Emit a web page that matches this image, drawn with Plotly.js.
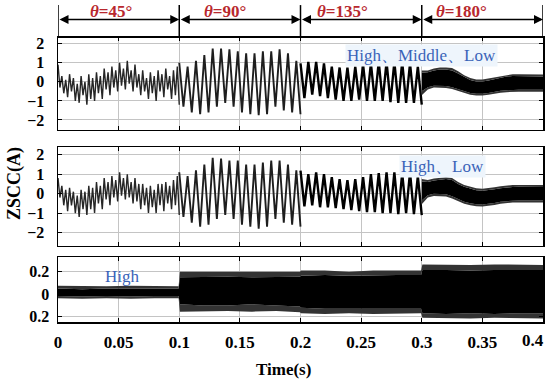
<!DOCTYPE html>
<html><head><meta charset="utf-8">
<script src="https://cdn.plot.ly/plotly-3.0.1.min.js"></script>
<style>html,body{margin:0;padding:0;background:#fff}#c{width:550px;height:383px}</style>
</head><body><div id="c"></div>
<script>
// ---- data ----
const segStarts = [0, 0.1, 0.2, 0.3];
const segLabels = ['<i>θ</i>=45°', '<i>θ</i>=90°', '<i>θ</i>=135°', '<i>θ</i>=180°'];
const segLabelX = [0.0437, 0.138, 0.235, 0.333];

// Panel 1 (High, Middle, Low) : alternating peak / trough values
const p1_45 = [0.9,-0.3, 0.3,-0.6, 0.1,-0.8, 0.4,-0.5, 0.2,-1.0, -0.1,-1.1, 0.3,-0.7, 0.0,-1.2,
  0.4,-0.9, 0.2,-1.0, 0.5,-0.6, 0.3,-0.9, 0.7,-0.4, 0.5,-0.7, 0.8,-0.3, 0.6,-0.5,
  1.0,-0.2, 0.7,-0.4, 1.1,-0.1, 0.6,-0.5, 0.9,-0.3, 0.4,-0.7, 0.6,-0.5, 0.2,-0.9,
  0.5,-0.6, 0.3,-1.0, 0.6,-0.5, 0.4,-0.8, 0.7,-0.4, 0.3,-0.9, 0.6,-0.7, 0.8,-1.2];
const p1_90 = [1.0,-1.3, 0.8,-1.6, 1.1,-1.7, 1.4,-1.6, 1.75,-1.3, 1.75,-1.1, 1.7,-1.3, 1.6,-1.6,
  1.5,-1.7, 1.5,-1.75, 1.6,-1.7, 1.6,-1.3, 1.7,-1.5, 1.5,-1.6, 1.1,-1.7];
const p1_135 = [0.97,-0.85, 1.05,-0.67, 1.05,-0.75, 0.97,-0.85, 0.8,-0.93, 0.75,-1.0, 0.75,-1.0, 0.8,-0.93,
  0.9,-1.0, 0.97,-1.0, 1.05,-1.0, 1.05,-1.06, 1.05,-1.1, 1.05,-1.1, 0.97,-1.1, 0.8,-1.2];
const tBand = [0.300,0.305,0.310,0.315,0.320,0.325,0.330,0.335,0.340,0.345,0.350,0.355,0.360,0.365,0.370,0.375,0.380,0.385,0.390,0.395,0.400];
const p1_180_hiO = [0.60,0.60,0.70,0.75,0.75,0.72,0.55,0.35,0.20,0.12,0.12,0.18,0.25,0.32,0.38,0.40,0.40,0.40,0.40,0.40,0.38];
const p1_180_hiI = [0.48,0.50,0.60,0.65,0.65,0.60,0.44,0.25,0.10,0.02,0.02,0.07,0.15,0.22,0.28,0.30,0.30,0.30,0.30,0.30,0.28];
const p1_180_loI = [-0.50,-0.28,-0.20,-0.20,-0.22,-0.28,-0.38,-0.48,-0.58,-0.62,-0.62,-0.58,-0.52,-0.47,-0.44,-0.42,-0.42,-0.42,-0.42,-0.42,-0.42];
const p1_180_loO = [-0.70,-0.40,-0.30,-0.30,-0.32,-0.38,-0.48,-0.58,-0.68,-0.72,-0.72,-0.68,-0.62,-0.57,-0.54,-0.52,-0.52,-0.52,-0.52,-0.52,-0.52];

// Panel 2 (High, Low)
const p2_45 = [0.8,-0.2, 0.4,-0.6, 0.2,-0.9, 0.3,-0.6, 0.1,-1.0, -0.1,-1.2, 0.2,-0.8, 0.1,-1.1,
  0.4,-0.8, 0.3,-1.0, 0.6,-0.5, 0.4,-0.8, 0.8,-0.3, 0.6,-0.6, 0.9,-0.2, 0.7,-0.4,
  1.1,-0.1, 0.8,-0.3, 1.0,-0.2, 0.6,-0.5, 0.8,-0.4, 0.5,-0.8, 0.5,-0.6, 0.3,-1.0,
  0.4,-0.7, 0.2,-1.0, 0.5,-0.6, 0.5,-0.9, 0.6,-0.5, 0.4,-0.8, 0.7,-0.6, 0.9,-1.1];
const p2_90 = [1.1,-1.2, 0.9,-1.5, 1.2,-1.7, 1.5,-1.6, 1.85,-1.3, 1.8,-1.1, 1.7,-1.3, 1.7,-1.6,
  1.5,-1.7, 1.5,-1.8, 1.6,-1.7, 1.7,-1.3, 1.7,-1.5, 1.5,-1.6, 1.2,-1.7];
const p2_135 = [1.18,-0.65, 1.0,-0.6, 1.1,-0.7, 1.0,-0.7, 0.85,-0.75, 0.75,-0.8, 0.7,-0.85, 0.75,-0.9,
  0.85,-0.95, 1.0,-0.95, 1.05,-1.0, 1.1,-1.0, 1.1,-1.05, 1.05,-1.0, 1.1,-1.05, 0.9,-1.1];
const p2_180_hiO = [0.75,0.70,0.78,0.82,0.85,0.80,0.60,0.45,0.35,0.28,0.25,0.28,0.33,0.38,0.42,0.44,0.45,0.45,0.45,0.44,0.44];
const p2_180_hiI = [0.63,0.60,0.68,0.72,0.75,0.70,0.50,0.35,0.25,0.18,0.15,0.18,0.23,0.28,0.32,0.34,0.35,0.35,0.35,0.34,0.34];
const p2_180_loI = [-0.35,-0.08,0.00,0.00,-0.03,-0.13,-0.28,-0.42,-0.50,-0.55,-0.56,-0.53,-0.48,-0.42,-0.38,-0.36,-0.35,-0.35,-0.35,-0.35,-0.35];
const p2_180_loO = [-0.55,-0.20,-0.12,-0.12,-0.15,-0.25,-0.40,-0.52,-0.60,-0.65,-0.66,-0.63,-0.58,-0.52,-0.48,-0.46,-0.45,-0.45,-0.45,-0.45,-0.45];

// Panel 3 (High) : envelope of the dense waveform
const t3 = [0,0.02,0.04,0.06,0.08,0.0995, 0.1005,0.12,0.14,0.16,0.18,0.1995, 0.2005,0.22,0.24,0.26,0.28,0.2995, 0.3005,0.32,0.34,0.36,0.38,0.4];
const p3_hiO = [0.075,0.07,0.07,0.075,0.07,0.07, 0.20,0.20,0.205,0.20,0.20,0.20, 0.21,0.21,0.20,0.21,0.21,0.21, 0.265,0.26,0.26,0.265,0.26,0.26];
const p3_hiI = [0.05,0.045,0.05,0.05,0.045,0.05, 0.15,0.155,0.155,0.15,0.155,0.155, 0.165,0.17,0.165,0.17,0.17,0.17, 0.215,0.215,0.21,0.215,0.215,0.215];
const p3_loI = [-0.015,-0.02,-0.015,-0.02,-0.015,-0.015, -0.09,-0.10,-0.10,-0.09,-0.10,-0.11, -0.12,-0.13,-0.13,-0.13,-0.13,-0.13, -0.17,-0.175,-0.17,-0.175,-0.17,-0.17];
const p3_loO = [-0.035,-0.04,-0.035,-0.04,-0.035,-0.035, -0.155,-0.15,-0.15,-0.155,-0.15,-0.16, -0.17,-0.175,-0.17,-0.175,-0.175,-0.17, -0.21,-0.215,-0.215,-0.21,-0.215,-0.215];

const xTicks = [0,0.05,0.1,0.15,0.2,0.25,0.3,0.35,0.4];
// the last label sits at the right edge; it is drawn right-aligned to its tick (as in the reference)
const xTickText = ['0','0.05','0.1','0.15','0.2','0.25','0.3','0.35',''];
const xLastLabel = '0.4';
const yTicks12 = [-2,-1,0,1,2];
const yTickText12 = ['\u22122','\u22121','0','1','2'];
const yTicks3 = [-0.2,0,0.2];
const yTickText3 = ['0.2','0','0.2'];

// ---- build ----
function segX(start, vals){ const n = vals.length; return vals.map((_, i) => start + 0.1 * i / (n - 1)); }
const FONT = '"Liberation Serif", "Times New Roman", serif';
const traces = [];
function wave(start, vals, xa, ya, color, w){
  traces.push({x: segX(start, vals), y: vals, xaxis: xa, yaxis: ya, mode: 'lines', line: {color: color, width: w}, hoverinfo: 'skip'});
}
function band(t, loO, loI, hiI, hiO, xa, ya){
  const base = {x: t, xaxis: xa, yaxis: ya, mode: 'lines', line: {width: 0}, hoverinfo: 'skip'};
  traces.push(Object.assign({}, base, {y: loO}));
  traces.push(Object.assign({}, base, {y: loI, fill: 'tonexty', fillcolor: '#333'}));
  traces.push(Object.assign({}, base, {y: hiI, fill: 'tonexty', fillcolor: '#000'}));
  traces.push(Object.assign({}, base, {y: hiO, fill: 'tonexty', fillcolor: '#333'}));
}
wave(0.0, p1_45, 'x', 'y', '#262626', 1.4);
wave(0.1, p1_90, 'x', 'y', '#1e1e1e', 1.9);
wave(0.2, p1_135, 'x', 'y', '#000', 2.4);
band(tBand, p1_180_loO, p1_180_loI, p1_180_hiI, p1_180_hiO, 'x', 'y');
wave(0.0, p2_45, 'x2', 'y2', '#262626', 1.4);
wave(0.1, p2_90, 'x2', 'y2', '#1e1e1e', 1.9);
wave(0.2, p2_135, 'x2', 'y2', '#000', 2.4);
band(tBand, p2_180_loO, p2_180_loI, p2_180_hiI, p2_180_hiO, 'x2', 'y2');
band(t3, p3_loO, p3_loI, p3_hiI, p3_hiO, 'x3', 'y3');

const tickFont = {family: FONT, size: 16, color: '#000', weight: 'bold'};
const xTickFont = {family: FONT, size: 17, color: '#000', weight: 'bold'};
function xax(anchor, labels){
  return {domain: [0,1], anchor: anchor, range: [0,0.4], tickvals: xTicks, ticktext: xTickText,
    showticklabels: labels, ticks: 'inside', ticklen: 4, tickcolor: '#000', mirror: 'ticks',
    showline: true, linecolor: '#000', linewidth: 1.5, showgrid: true, gridcolor: '#c4c4c4', gridwidth: 1,
    zeroline: false, tickfont: xTickFont, ticklabelstandoff: 4, automargin: false};
}
function yax(anchor, domain, range, tv, tt, standoff){
  return {domain: domain, anchor: anchor, range: range, tickvals: tv, ticktext: tt,
    ticks: 'inside', ticklen: 4, tickcolor: '#000', mirror: 'ticks', showline: true, linecolor: '#000', linewidth: 1.5,
    showgrid: true, gridcolor: '#c4c4c4', gridwidth: 1, zeroline: false, tickfont: tickFont, ticklabelstandoff: standoff,
    automargin: false};
}
const layout = {
  width: 550, height: 383, margin: {l: 58, r: 7, t: 37, b: 61},
  paper_bgcolor: '#fff', plot_bgcolor: '#fff', showlegend: false, hovermode: false,
  xaxis: Object.assign(xax('y', false), {matches: 'x3'}),
  xaxis2: Object.assign(xax('y2', false), {matches: 'x3'}),
  xaxis3: xax('y3', true),
  yaxis: yax('x', [0.674, 1], [-2.52, 2.35], yTicks12, yTickText12, 9),
  yaxis2: yax('x2', [0.267, 0.614], [-2.69, 2.40], yTicks12, yTickText12, 9),
  yaxis3: yax('x3', [0, 0.228], [-0.247, 0.331], yTicks3, yTickText3, 4),
  shapes: [], annotations: []
};
// header: boundary lines, double arrows and angle labels
segStarts.concat([0.4]).forEach(v => {
  layout.shapes.push({type: 'line', xref: 'x', yref: 'paper', x0: v, x1: v, y0: 1, y1: 1.112, line: {color: '#000', width: 1.5}});
});
layout.shapes.push({type: 'line', xref: 'x', yref: 'paper', x0: 0, x1: 0.4, y0: 1, y1: 1, line: {color: '#000', width: 2.2}});
segStarts.forEach((s, i) => {
  layout.annotations.push({xref: 'x', yref: 'paper', x: s + 0.1, y: 1.0614, axref: 'x', ayref: 'pixel', ax: s, ay: 0,
    text: '', showarrow: true, arrowhead: 2, arrowside: 'end+start', arrowsize: 1.2, arrowwidth: 1.5, arrowcolor: '#000',
    standoff: 0, startstandoff: 0});
  layout.annotations.push({xref: 'x', yref: 'paper', x: segLabelX[i], y: 1.0895, text: segLabels[i], showarrow: false,
    font: {family: FONT, size: 17, color: '#b8282e', weight: 'bold'}, xanchor: 'center', yanchor: 'middle'});
});
layout.annotations.push({xref: 'x3', yref: 'paper', x: xTicks[xTicks.length - 1], y: -0.066, text: xLastLabel, showarrow: false,
  font: xTickFont, xanchor: 'right', yanchor: 'middle', xshift: 3});
const blue = {family: FONT, size: 17, color: '#3a63b8'};
layout.annotations.push({xref: 'x', yref: 'y', x: 0.3, y: 1.4, text: 'High、Middle、Low', showarrow: false, font: blue, bgcolor: '#eef5fc'});
layout.annotations.push({xref: 'x2', yref: 'y2', x: 0.3167, y: 1.4, text: 'High、Low', showarrow: false, font: blue, bgcolor: '#eef5fc'});
layout.annotations.push({xref: 'x3', yref: 'y3', x: 0.0532, y: 0.154, text: 'High', showarrow: false, font: blue});
layout.annotations.push({xref: 'paper', yref: 'paper', x: -0.0887, y: 0.488, text: 'ZSCC(A)', textangle: -90, showarrow: false,
  font: {family: FONT, size: 18, color: '#000', weight: 'bold'}, xanchor: 'center', yanchor: 'middle'});
layout.annotations.push({xref: 'paper', yref: 'paper', x: 0.465, y: -0.168, text: 'Time(s)', showarrow: false,
  font: {family: FONT, size: 17, color: '#000', weight: 'bold'}, xanchor: 'center', yanchor: 'middle'});

Plotly.newPlot('c', traces, layout, {staticPlot: true, displayModeBar: false});
</script></body></html>
